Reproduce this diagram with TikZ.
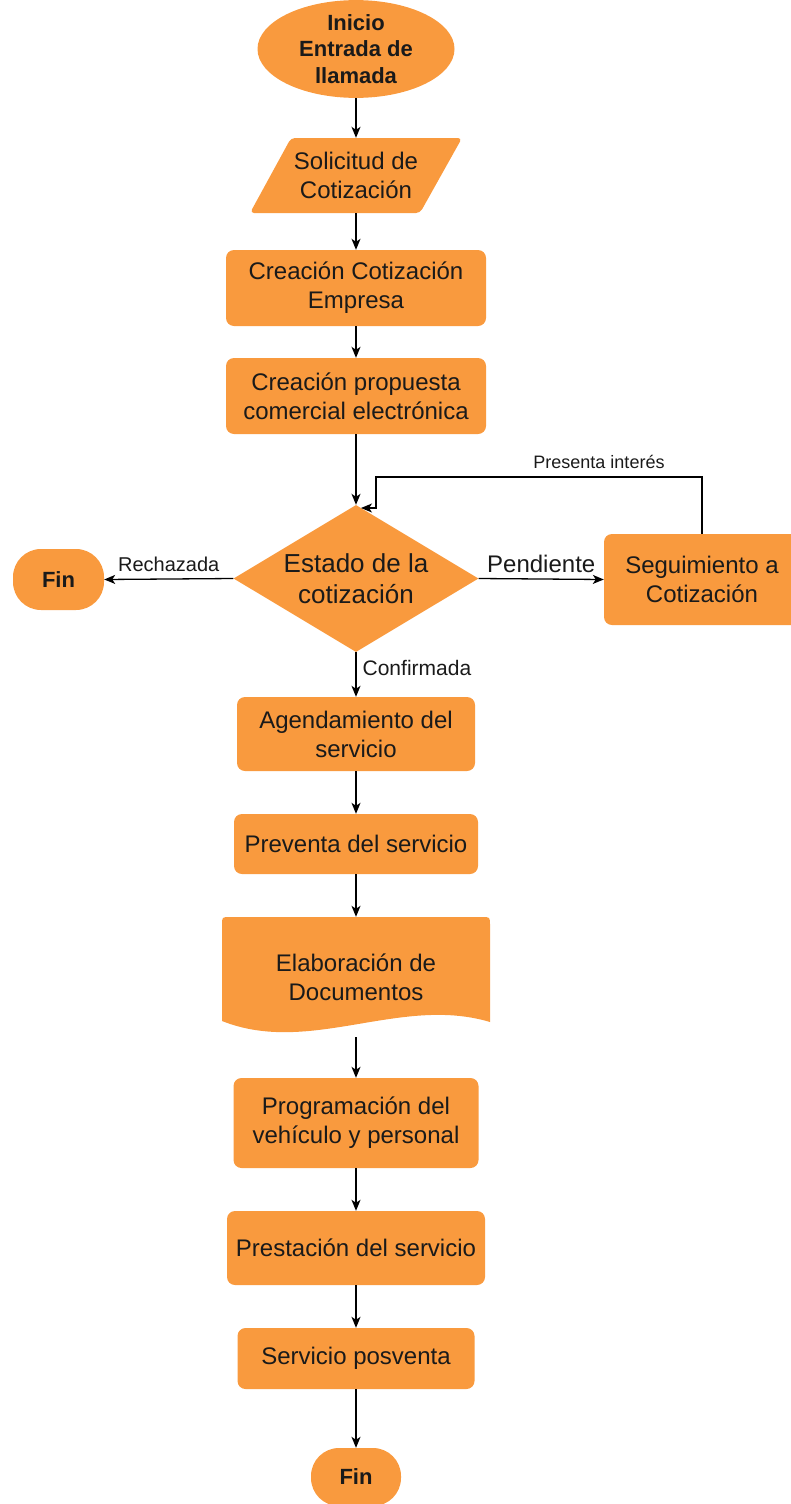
\documentclass[tikz,border=0pt]{standalone}
\usepackage{fontspec}
\setmainfont{Liberation Sans}
\usetikzlibrary{shapes.geometric,arrows.meta,backgrounds}
\definecolor{ofill}{HTML}{F99A3E}
\definecolor{txt}{HTML}{1A1A1A}
\begin{document}
\begin{tikzpicture}[x=1pt,y=-1pt,
  box/.style={fill=ofill, rounded corners=8pt, align=center, text=txt,
    font=\fontsize{24}{29}\selectfont, inner sep=0pt},
  term/.style={fill=ofill, align=center, text=txt, inner sep=0pt,
    font=\bfseries\fontsize{22}{26.5}\selectfont},
  arr/.style={-{Stealth[length=11pt,width=9pt,inset=3pt]}, line width=1.3pt, draw=black},
  lbl/.style={text=txt, inner sep=0pt}
]
\useasboundingbox (0,0) rectangle (790,1504);

% start
\node[term, ellipse, minimum width=197pt, minimum height=94pt] (start) at (356,49) {Inicio\\Entrada de\\llamada};

% parallelogram
\node[box, fill=none, minimum width=212pt, minimum height=75pt] (sol) at (356,175.5) {Solicitud de\\Cotizaci\'on};
\begin{scope}[on background layer]
  \fill[ofill, rounded corners=4pt] (291,138) -- (462,138) -- (420,213) -- (250,213) -- cycle;
\end{scope}

\node[box, minimum width=260pt, minimum height=76pt] (c1) at (356,288) {Creación Cotización\\Empresa};
\node[box, minimum width=260pt, minimum height=76pt] (c2) at (356,396) {Creación propuesta\\comercial electrónica};

% decision
\node[diamond, fill=ofill, aspect=1.667, minimum width=245pt, minimum height=147pt, inner sep=0pt,
  align=center, text=txt, font=\fontsize{26}{31}\selectfont] (est) at (356,578.5) {Estado de la\\cotización};

\node[term, rounded corners=28pt, minimum width=91pt, minimum height=61pt] (finL) at (58.5,579.5) {Fin};
\node[box, minimum width=196pt, minimum height=91pt] (seg) at (702,579.5) {Seguimiento a\\Cotización};

\node[box, minimum width=238pt, minimum height=74pt] (agen) at (356,734) {Agendamiento del\\servicio};
\node[box, minimum width=244pt, minimum height=60pt] (prev) at (356,844) {Preventa del servicio};

% document
\node[box, fill=none, minimum width=268pt, minimum height=120pt] (doc) at (356,977) {Elaboración de\\Documentos};
\begin{scope}[on background layer]
  \fill[ofill] (222,1021) -- (222,925) .. controls (222,917) .. (230,917) -- (482,917)
    .. controls (490,917) .. (490,925) -- (490,1022)
    .. controls (400,995) and (310,1056) .. (222,1021) -- cycle;
\end{scope}

\node[box, minimum width=245pt, minimum height=90pt] (prog) at (356,1123) {Programación del\\vehículo y personal};
\node[box, minimum width=258pt, minimum height=74pt] (pres) at (356,1248) {Prestación del servicio};
\node[box, minimum width=237pt, minimum height=61pt] (posv) at (356,1358.5) {Servicio posventa};
\node[term, rounded corners=28pt, minimum width=90pt, minimum height=58pt] (finB) at (356,1477) {Fin};

% loop coordinates
\coordinate (lp1) at (376,477);
\coordinate (lp2) at (376,508);
\coordinate (lp3) at (361,508);

% connectors
\draw[arr] (start.south) -- (sol.north);
\draw[arr] (sol.south) -- (c1.north);
\draw[arr] (c1.south) -- (c2.north);
\draw[arr] (c2.south) -- (est.north);
\draw[arr] (est.west) -- node[lbl, above=7pt, font=\fontsize{20}{24}\selectfont] {Rechazada} (finL.east);
\draw[arr] (est.east) -- node[lbl, above=6pt, font=\fontsize{24}{28}\selectfont] {Pendiente} (seg.west);
\draw[arr] (seg.north) |- (lp1) -- (lp2) -- (lp3);
\node[lbl, font=\fontsize{18}{22}\selectfont] (pi) at (599,462) {Presenta interés};
\draw[arr] (est.south) -- node[lbl, right=6pt, pos=0.36, font=\fontsize{21}{25}\selectfont] {Confirmada} (agen.north);
\draw[arr] (agen.south) -- (prev.north);
\draw[arr] (prev.south) -- (doc.north);
\draw[arr] (doc.south) -- (prog.north);
\draw[arr] (prog.south) -- (pres.north);
\draw[arr] (pres.south) -- (posv.north);
\draw[arr] (posv.south) -- (finB.north);
\end{tikzpicture}
\end{document}
